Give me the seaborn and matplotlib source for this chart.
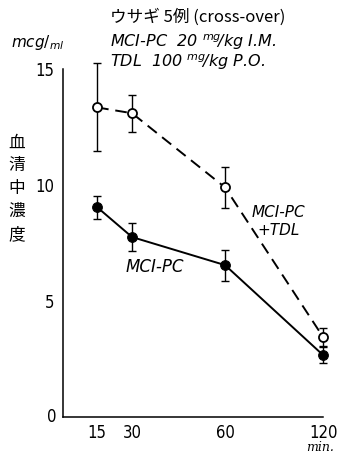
import numpy as np
import pandas as pd
import matplotlib
matplotlib.use("Agg")
import matplotlib.pyplot as plt
import seaborn as sns

# Serum concentration after MCI-PC with / without TDL (rabbits, n=5, cross-over)
minutes = [15, 30, 60, 120]
mci_pc = [9.05, 7.76, 6.55, 2.67]
mci_pc_sd = [0.50, 0.60, 0.67, 0.33]
mci_pc_tdl = [13.35, 13.1, 9.9, 3.45]
mci_pc_tdl_sd = [1.9, 0.8, 0.87, 0.37]
x_ticks = [15, 30, 60, 120]
y_ticks = [5, 10, 15]

sns.set_theme(style="white")
plt.rcParams["font.family"] = ["DejaVu Sans", "Noto Sans CJK JP"]
plt.rcParams["mathtext.fontset"] = "dejavusans"
plt.rcParams["text.color"] = "black"
plt.rcParams["xtick.color"] = "black"
plt.rcParams["ytick.color"] = "black"
plt.rcParams["xtick.labelcolor"] = "black"
plt.rcParams["ytick.labelcolor"] = "black"

df = pd.DataFrame({
    "min": minutes * 2,
    "conc": mci_pc + mci_pc_tdl,
    "group": ["MCI-PC"] * 4 + ["MCI-PC+TDL"] * 4,
})

fig = plt.figure(figsize=(3.39, 4.55), dpi=100)
ax = fig.add_axes([0.186, 0.0835, 0.767, 0.7645])

# hand-spaced time axis of the original figure
_src = [0, 15, 30, 60, 120]
_dst = [0, 34, 69, 162, 260]
def fwd(x):
    return np.interp(x, _src, _dst, left=-1e3, right=1e3)
def inv(x):
    return np.interp(x, _dst, _src)
ax.set_xscale("function", functions=(fwd, inv))

sns.lineplot(data=df[df.group == "MCI-PC"], x="min", y="conc", ax=ax,
             color="black", lw=1.4, marker="o", markersize=7,
             markerfacecolor="black", markeredgecolor="black", legend=False)
sns.lineplot(data=df[df.group == "MCI-PC+TDL"], x="min", y="conc", ax=ax,
             color="black", lw=1.4, marker="o", markersize=6.5,
             markerfacecolor="white", markeredgecolor="black",
             markeredgewidth=1.3, legend=False)
for ln in ax.lines[1:]:
    ln.set_dashes([6, 3.5])

ax.errorbar(minutes, mci_pc, yerr=mci_pc_sd, fmt="none", ecolor="black",
            elinewidth=1.0, capsize=3, capthick=1.0, clip_on=False, zorder=1)
ax.errorbar(minutes, mci_pc_tdl, yerr=mci_pc_tdl_sd, fmt="none", ecolor="black",
            elinewidth=1.0, capsize=3, capthick=1.0, clip_on=False, zorder=1)
for ln in ax.lines:
    ln.set_clip_on(False)

ax.set_xlim(0, 120)
ax.set_ylim(0, 15)
ax.set_xticks(x_ticks)
ax.set_xticklabels([str(t) for t in x_ticks])
ax.set_yticks(y_ticks)
ax.set_yticklabels([str(t) for t in y_ticks])
ax.set_xlabel("")
ax.set_ylabel("")
ax.tick_params(axis="both", direction="in", length=5, width=1.0, colors="black",
               labelsize=12)
ax.tick_params(axis="x", pad=5)
ax.tick_params(axis="y", pad=6)
for lab in ax.get_xticklabels() + ax.get_yticklabels():
    lab.set_fontstretch("condensed")
for s in ["top", "right"]:
    ax.spines[s].set_visible(False)
for s in ["left", "bottom"]:
    ax.spines[s].set_color("black")
    ax.spines[s].set_linewidth(1.1)
ax.patch.set_alpha(0)

tr = ax.transAxes
ax.text(-0.025, 0.0, "0", transform=tr, ha="right", va="center", fontsize=12,
        fontstretch="condensed")
fig.text(0.945, 0.016, "min.", ha="center", va="center",
         fontsize=9, style="italic", family="DejaVu Serif")

# series labels
ax.text(0.24, 0.43, "MCI-PC", transform=tr, fontsize=12, style="italic",
        ha="left", va="center")
ax.text(0.827, 0.562, "MCI-PC\n+TDL", transform=tr, fontsize=11, style="italic",
        ha="center", va="center", linespacing=1.2)

# axis titles and header
fig.text(0.11, 0.907, r"$mcg/_{ml}$", ha="center", va="center", fontsize=11)
fig.text(0.048, 0.585, "血\n清\n中\n濃\n度", ha="center", va="center",
         fontsize=12, linespacing=1.45,
         family=["Noto Sans CJK JP", "DejaVu Sans"])
fig.text(0.325, 0.962, "ウサギ 5例 (cross-over)", ha="left", va="center",
         fontsize=12, family=["Noto Sans CJK JP", "DejaVu Sans"])
fig.text(0.325, 0.907, r"MCI-PC  20 $^{mg}\!$/kg I.M.", ha="left", va="center",
         fontsize=11.5, style="italic")
fig.text(0.325, 0.864, r"TDL  100 $^{mg}\!$/kg P.O.", ha="left", va="center",
         fontsize=11.5, style="italic")

fig.savefig("out.png", dpi=100)
